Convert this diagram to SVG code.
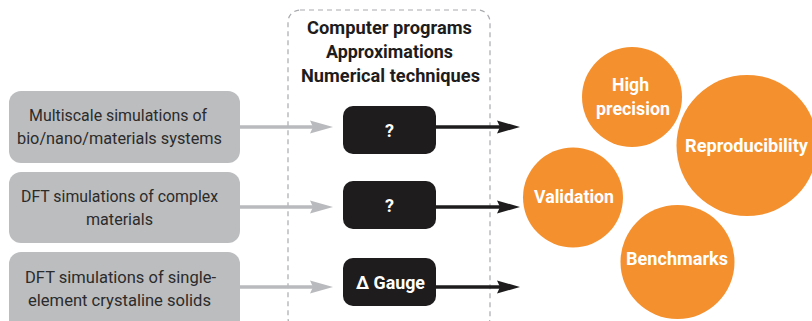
<svg xmlns="http://www.w3.org/2000/svg" width="812" height="321" viewBox="0 0 812 321">
<style>
.src{fill:#bcbdbf}
.srct{font-family:"Roboto","Liberation Sans",sans-serif;font-size:17px;fill:#2b2b2b;text-anchor:middle}
.blk{fill:#1e1c1c}
.blkt{font-family:"Roboto","Liberation Sans",sans-serif;font-size:18px;font-weight:bold;fill:#fff;text-anchor:middle}
.hd{font-family:"Roboto","Liberation Sans",sans-serif;font-size:19px;font-weight:bold;fill:#1e1c1c;text-anchor:middle}
.circ{fill:#f4902e}
.ct{font-family:"Roboto","Liberation Sans",sans-serif;font-size:19px;font-weight:bold;fill:#fff;text-anchor:middle}
.ga{stroke:#b9babd;stroke-width:3.5;fill:none}
.ka{stroke:#1e1c1c;stroke-width:3.5;fill:none}
.gah{fill:#b9babd}
.kah{fill:#1e1c1c}
</style>
<defs>
<path id="head" d="M-23,-6.5 L0,0 L-23,6.5 L-20,0 Z"/>
</defs>
<rect x="0" y="0" width="812" height="321" fill="#fff"/>
<g id="frame">
<rect x="288" y="10" width="202" height="320" rx="12" fill="none" stroke="#a9aaad" stroke-width="1.2" stroke-dasharray="5,4"/>
<text class="hd" x="389.5" y="34" textLength="165" lengthAdjust="spacingAndGlyphs">Computer programs</text>
<text class="hd" x="389.5" y="58" textLength="127" lengthAdjust="spacingAndGlyphs">Approximations</text>
<text class="hd" x="390.5" y="82" textLength="179" lengthAdjust="spacingAndGlyphs">Numerical techniques</text>
</g>
<g id="src1"><rect class="src" x="9" y="91" width="231" height="72" rx="12"/>
<text class="srct" x="118" y="121" textLength="178" lengthAdjust="spacingAndGlyphs">Multiscale simulations of</text>
<text class="srct" x="119.5" y="144" textLength="205" lengthAdjust="spacingAndGlyphs">bio/nano/materials systems</text></g>
<g id="src2"><rect class="src" x="9" y="172" width="231" height="71" rx="12"/>
<text class="srct" x="119.5" y="202" textLength="197" lengthAdjust="spacingAndGlyphs">DFT simulations of complex</text>
<text class="srct" x="119.5" y="225" textLength="67" lengthAdjust="spacingAndGlyphs">materials</text></g>
<g id="src3"><rect class="src" x="9" y="252" width="231" height="80" rx="12"/>
<text class="srct" x="120.5" y="283" textLength="191" lengthAdjust="spacingAndGlyphs">DFT simulations of single-</text>
<text class="srct" x="119.5" y="306" textLength="183" lengthAdjust="spacingAndGlyphs">element crystaline solids</text></g>
<g id="code1"><rect class="blk" x="343" y="106" width="93" height="48" rx="10"/>
<text class="blkt" x="389.5" y="137">?</text></g>
<g id="code2"><rect class="blk" x="343" y="181" width="93" height="48" rx="10"/>
<text class="blkt" x="389.5" y="212">?</text></g>
<g id="code3"><rect class="blk" x="343" y="258" width="93" height="48" rx="10"/>
<text class="blkt" x="390.5" y="289" textLength="69" lengthAdjust="spacingAndGlyphs">Δ Gauge</text></g>
<g id="connectors">
<line class="ga" x1="240" y1="127" x2="314" y2="127"/>
<use href="#head" class="gah" x="333" y="127"/>
<line class="ga" x1="240" y1="207" x2="314" y2="207"/>
<use href="#head" class="gah" x="333" y="207"/>
<line class="ga" x1="240" y1="287" x2="314" y2="287"/>
<use href="#head" class="gah" x="333" y="287"/>
<line class="ka" x1="436" y1="127" x2="500" y2="127"/>
<use href="#head" class="kah" x="520" y="127"/>
<line class="ka" x1="436" y1="207" x2="500" y2="207"/>
<use href="#head" class="kah" x="520" y="207"/>
<line class="ka" x1="436" y1="287" x2="500" y2="287"/>
<use href="#head" class="kah" x="520" y="287"/>
</g>
<g id="high"><circle class="circ" cx="632" cy="97" r="50"/>
<text class="ct" x="630.5" y="91" textLength="37" lengthAdjust="spacingAndGlyphs">High</text>
<text class="ct" x="633" y="115" textLength="74" lengthAdjust="spacingAndGlyphs">precision</text></g>
<g id="repro"><circle class="circ" cx="747" cy="145.5" r="70.5"/>
<text class="ct" x="746.5" y="152" textLength="123" lengthAdjust="spacingAndGlyphs">Reproducibility</text></g>
<g id="valid"><circle class="circ" cx="573" cy="197.5" r="50"/>
<text class="ct" x="574" y="203" textLength="80" lengthAdjust="spacingAndGlyphs">Validation</text></g>
<g id="bench"><circle class="circ" cx="677.5" cy="262" r="57"/>
<text class="ct" x="677" y="265" textLength="102" lengthAdjust="spacingAndGlyphs">Benchmarks</text></g>
</svg>
